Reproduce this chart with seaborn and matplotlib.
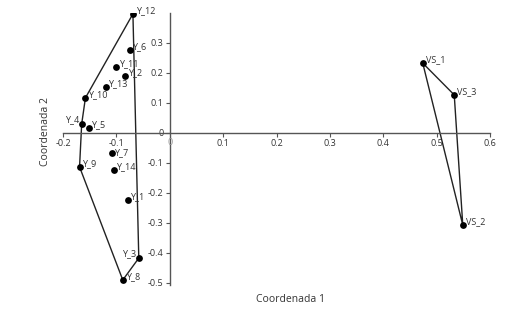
import matplotlib.pyplot as plt
import seaborn as sns
import pandas as pd

# Point labels and coordinates
labels = ['Y_12', 'Y_6', 'Y_11', 'Y_2', 'Y_13', 'Y_10', 'Y_4', 'Y_5', 'Y_9',
          'Y_7', 'Y_14', 'Y_1', 'Y_3', 'Y_8', 'VS_1', 'VS_3', 'VS_2']
coord1 = [-0.069, -0.075, -0.101, -0.084, -0.120, -0.158, -0.165, -0.152, -0.169,
          -0.109, -0.105, -0.079, -0.058, -0.088, 0.474, 0.533, 0.549]
coord2 = [0.397, 0.277, 0.220, 0.190, 0.153, 0.117, 0.030, 0.017, -0.113,
          -0.067, -0.123, -0.223, -0.417, -0.490, 0.233, 0.127, -0.307]

# Hull outlines (closed polygons)
hull_y = ['Y_12', 'Y_3', 'Y_8', 'Y_9', 'Y_4', 'Y_10', 'Y_12']
hull_vs = ['VS_1', 'VS_3', 'VS_2', 'VS_1']

# Labels drawn on the left side of their point
left_labels = ['Y_4', 'Y_3']

x_ticks = [-0.2, -0.1, 0.1, 0.2, 0.3, 0.4, 0.5, 0.6]
y_ticks = [0.3, 0.2, 0.1, 0, -0.1, -0.2, -0.3, -0.4, -0.5]

df = pd.DataFrame({'label': labels, 'c1': coord1, 'c2': coord2})

sns.set_style('white')
plt.rcParams['font.family'] = ['Open Sans', 'DejaVu Sans']

fig = plt.figure(figsize=(5.28, 3.12), dpi=100)
ax = fig.add_axes([63 / 528, 1 - 284.5 / 312, (490 - 63) / 528, (284.5 - 13) / 312])

for hull in (hull_y, hull_vs):
    h = df.set_index('label').loc[hull].reset_index()
    sns.lineplot(data=h, x='c1', y='c2', sort=False, estimator=None,
                 color='#222222', linewidth=1.0, ax=ax)

sns.scatterplot(data=df, x='c1', y='c2', color='black', s=24,
                edgecolor='black', linewidth=0, ax=ax, zorder=3)

for lab, x, y in zip(labels, coord1, coord2):
    if lab in left_labels:
        ax.annotate(lab, (x, y), xytext=(-2, 3), textcoords='offset points',
                    ha='right', va='center', fontsize=6.5, color='#333333')
    else:
        dy = 0.5 if lab == 'Y_7' else 2.5
        ax.annotate(lab, (x, y), xytext=(2, dy), textcoords='offset points',
                    ha='left', va='center', fontsize=6.5, color='#333333')

ax.set_xlim(-0.2, 0.6)
ax.set_ylim(-0.505, 0.4)

# Axes crossing at the origin
ax.spines['left'].set_position(('data', 0))
ax.spines['bottom'].set_position(('data', 0))
ax.spines['right'].set_visible(False)
ax.spines['top'].set_visible(False)
for s in ('left', 'bottom'):
    ax.spines[s].set_color('#555555')
    ax.spines[s].set_linewidth(1.0)

ax.set_xticks(x_ticks)
ax.set_xticklabels([f'{t:g}' for t in x_ticks])
ax.set_yticks(y_ticks)
ax.set_yticklabels([f'{t:g}' for t in y_ticks])
ax.tick_params(axis='both', labelsize=6.5, colors='#555555', length=3, width=0.8,
               direction='out', pad=1.5, left=True, bottom=True)
ax.tick_params(axis='both', labelcolor='#333333')
ax.text(0, -0.018, '0', ha='center', va='top', fontsize=6.5, color='#999999')

ax.set_xlabel('')
ax.set_ylabel('')
fig.text(290 / 528, 1 - 299 / 312, 'Coordenada 1', ha='center', va='center',
         fontsize=7.5, color='#333333')
fig.text(45 / 528, 1 - 131 / 312, 'Coordenada 2', ha='center', va='center',
         rotation=90, fontsize=7.5, color='#333333')

fig.savefig('out.png', dpi=100)
plt.close(fig)
